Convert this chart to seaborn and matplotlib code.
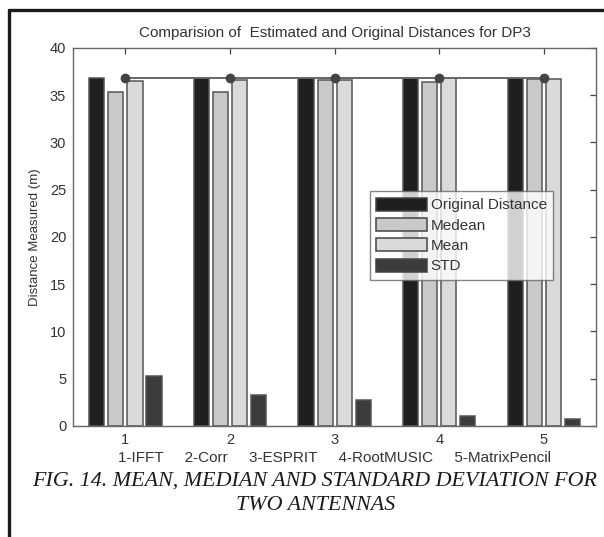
import numpy as np
import pandas as pd
import matplotlib
matplotlib.use("Agg")
import matplotlib.pyplot as plt
from matplotlib.lines import Line2D
import seaborn as sns

# Values per estimation method (DP3, two antennas)
groups = ["1", "2", "3", "4", "5"]
series = ["Original Distance", "Medean", "Mean", "STD"]
original_distance = [36.8, 36.8, 36.8, 36.8, 36.8]
median_distance = [35.3, 35.3, 36.6, 36.4, 36.7]
mean_distance = [36.5, 36.6, 36.6, 36.8, 36.7]
std_distance = [5.25, 3.25, 2.7, 1.05, 0.7]
method_names = ["1-IFFT", "2-Corr", "3-ESPRIT", "4-RootMUSIC", "5-MatrixPencil"]

colors = ["#1f1f1f", "#c9c9c9", "#dadada", "#3c3c3c"]

sns.set_style("white")
plt.rcParams["font.family"] = ["Liberation Sans", "DejaVu Sans"]
plt.rcParams["text.color"] = "#333333"
plt.rcParams["axes.labelcolor"] = "#333333"
plt.rcParams["xtick.color"] = "#333333"
plt.rcParams["ytick.color"] = "#333333"

df = pd.DataFrame({
    "group": np.repeat(groups, len(series)),
    "series": series * len(groups),
    "value": np.column_stack([original_distance, median_distance,
                              mean_distance, std_distance]).ravel(),
})

fig = plt.figure(figsize=(6.04, 5.37), dpi=100)
ax = fig.add_axes([0.121, 0.207, 0.866, 0.704])

sns.barplot(data=df, x="group", y="value", hue="series", order=groups,
            hue_order=series, palette=colors, width=0.727, gap=0.2,
            edgecolor="#555555", linewidth=1.1, ax=ax, errorbar=None,
            saturation=1)

# reference line at the original distance
pos = np.arange(len(groups))
ax.plot(pos, original_distance, color="#666666", lw=1.4, marker="o",
        markersize=6, markerfacecolor="#444444", markeredgecolor="#444444",
        zorder=5)

ax.set_xlim(-0.5, len(groups) - 0.5)
ax.set_ylim(0, 40)
ax.set_yticks(np.arange(0, 41, 5))
ax.set_xticks(pos)
ax.set_xticklabels(groups)
ax.tick_params(direction="in", length=4, width=0.9, top=True, right=True,
               labelsize=10.5, pad=5, colors="#444444", labelcolor="#333333")
for s in ax.spines.values():
    s.set_color("#666666")
    s.set_linewidth(1.0)

ax.set_ylabel("Distance Measured (m)", fontsize=9.5, labelpad=6)
ax.set_xlabel("     ".join(method_names), fontsize=11, labelpad=3)
ax.set_title("Comparision of  Estimated and Original Distances for DP3",
             fontsize=11, pad=8)

leg = ax.legend(loc="upper left", bbox_to_anchor=(0.568, 0.62),
                fontsize=11, handlelength=3.3, handleheight=0.95,
                labelspacing=0.36, handletextpad=0.25, borderpad=0.4,
                borderaxespad=0, frameon=True, fancybox=False)
leg.get_frame().set_edgecolor("#666666")
leg.get_frame().set_linewidth(1.0)
for h in leg.legend_handles:
    h.set_edgecolor("#444444")

# page frame lines
fig.add_artist(Line2D([9 / 604, 1], [1 - 10 / 537, 1 - 10 / 537],
                      color="#1a1a1a", lw=2.4, transform=fig.transFigure))
fig.add_artist(Line2D([9 / 604, 9 / 604], [0, 1 - 10 / 537],
                      color="#1a1a1a", lw=2.4, transform=fig.transFigure))

fig.text(315 / 604, 1 - 481 / 537,
         "FIG. 14. MEAN, MEDIAN AND STANDARD DEVIATION FOR",
         ha="center", va="center", fontsize=15.8, style="italic",
         family=["Liberation Serif"], color="#1a1a1a")
fig.text(316 / 604, 1 - 505 / 537, "TWO ANTENNAS",
         ha="center", va="center", fontsize=15.8, style="italic",
         family=["Liberation Serif"], color="#1a1a1a")

fig.savefig("out.png", dpi=100)
